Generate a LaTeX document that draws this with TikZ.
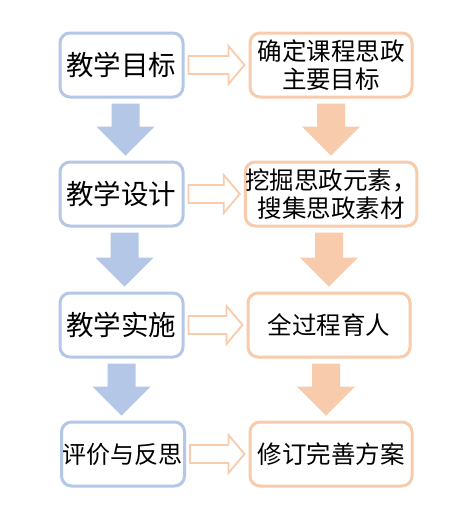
\documentclass[tikz,border=0pt]{standalone}
\usepackage{fontspec}
\setmainfont{Noto Sans CJK SC}
\usetikzlibrary{calc}
\definecolor{bl}{HTML}{B4C7E7}
\definecolor{og}{HTML}{F8CBAD}
\tikzset{
  lbox/.style={draw=bl, line width=3pt, rounded corners=10pt, fill=white,
    minimum width=123pt, minimum height=64pt, inner sep=0pt, align=center,
    font=\fontsize{27.5}{31}\selectfont},
  rbox/.style={draw=og, line width=3pt, rounded corners=10pt, fill=white,
    minimum width=162pt, minimum height=64pt, inner sep=0pt, align=center,
    font=\fontsize{24.5}{28}\selectfont},
}
\newcommand{\vArr}[4]{% from node #1 to node #2, color #3, x offset #4
  \path let \p1=(#1.south), \p2=(#2.north) in
    [fill=#3] (\x1+#4pt-14pt,\y1-5pt) -- (\x1+#4pt+14pt,\y1-5pt)
    -- (\x1+#4pt+14pt,\y2+34pt) -- (\x1+#4pt+29pt,\y2+34pt)
    -- (\x1+#4pt,\y2+5pt) -- (\x1+#4pt-29pt,\y2+34pt)
    -- (\x1+#4pt-14pt,\y2+34pt) -- cycle;}
\newcommand{\hArr}[2]{% hollow arrow from node #1 to node #2
  \path let \p1=(#1.east), \p2=(#2.west) in
    [draw=og, line width=1.8pt, line join=miter]
    (\x1+4pt,\y1+9pt) -- (\x2-20pt,\y1+9pt) -- (\x2-20pt,\y1+19pt)
    -- (\x2-4pt,\y1) -- (\x2-20pt,\y1-19pt) -- (\x2-20pt,\y1-9pt)
    -- (\x1+4pt,\y1-9pt) -- cycle;}
\begin{document}
\begin{tikzpicture}[x=1pt,y=-1pt]
\useasboundingbox[fill=white] (0,0) rectangle (468,507);
\node[lbox] (l1) at (121.5,65) {教学目标};
\node[lbox] (l2) at (121.5,194) {教学设计};
\node[lbox] (l3) at (121.5,325) {教学实施};
\node[lbox, font=\fontsize{24}{28}\selectfont] (l4) at (123,454) {评价与反思};
\node[rbox] (r1) at (331,65) {确定课程思政\\主要目标};
\node[rbox] (r2) at (331,194) {挖掘思政元素，\\搜集思政素材};
\node[rbox] (r3) at (329,325) {全过程育人};
\node[rbox] (r4) at (331,454) {修订完善方案};
\vArr{l1}{l2}{bl}{4}
\vArr{l2}{l3}{bl}{3}
\vArr{l3}{l4}{bl}{0}
\vArr{r1}{r2}{og}{0}
\vArr{r2}{r3}{og}{-2}
\vArr{r3}{r4}{og}{-3}
\hArr{l1}{r1}
\hArr{l2}{r2}
\hArr{l3}{r3}
\hArr{l4}{r4}
\end{tikzpicture}
\end{document}
